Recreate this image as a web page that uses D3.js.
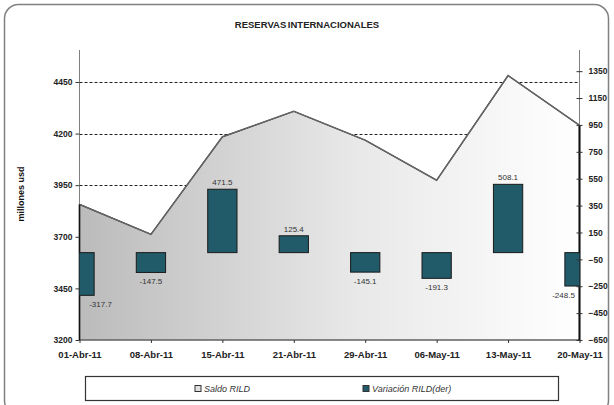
<!DOCTYPE html>
<html><head><meta charset="utf-8">
<script src="https://cdn.jsdelivr.net/npm/d3@7"></script>
<style>
html,body{margin:0;padding:0;background:#fff;}
svg{display:block;font-family:"Liberation Sans",Arial,sans-serif;}
</style></head>
<body><svg id="c" width="614" height="405"></svg>
<script>
const categories = ["01-Abr-11","08-Abr-11","15-Abr-11","21-Abr-11","29-Abr-11","06-May-11","13-May-11","20-May-11"];
const saldo = [3857, 3712, 4184, 4308, 4168, 3974, 4481, 4240];
const variacion = [-317.7, -147.5, 471.5, 125.4, -145.1, -191.3, 508.1, -248.5];
const leftTicks = [3200, 3450, 3700, 3950, 4200, 4450];
const rightTicks = [-650, -450, -250, -50, 150, 350, 550, 750, 950, 1150, 1350];
const gridTicks = [3700, 3950, 4200, 4450];
const title = "RESERVAS INTERNACIONALES";
const yTitle = "millones usd";
const legendLabels = ["Saldo RILD", "Variación RILD(der)"];

const svg = d3.select("#c");
const L = 79.5, R = 579.5, T = 50, B = 340;

const x = d3.scalePoint().domain(categories).range([L, R]);
const yL = d3.scaleLinear().domain([3200, 4600]).range([B, T + 1]);
const yR = d3.scaleLinear().domain([-650, 1500]).range([B, T + 1]);
const step = x.step();
const bw = step * 0.41;

// outer border
svg.append("rect").attr("x", 4.5).attr("y", 4.5).attr("width", 604).attr("height", 410)
  .attr("rx", 14).attr("fill", "#fff").attr("stroke", "#808080").attr("stroke-width", 1.5);

// title
svg.append("text").attr("x", 307).attr("y", 28).attr("text-anchor", "middle")
  .attr("font-size", 9.5).attr("font-weight", "bold").attr("fill", "#222")
  .attr("word-spacing", -1).text(title);

const defs = svg.append("defs");
const grad = defs.append("linearGradient").attr("id", "g").attr("gradientUnits", "userSpaceOnUse")
  .attr("x1", L).attr("x2", R).attr("y1", 0).attr("y2", 0);
grad.append("stop").attr("offset", 0).attr("stop-color", "#bbbbbb");
grad.append("stop").attr("offset", 0.55).attr("stop-color", "#e8e8e8");
grad.append("stop").attr("offset", 1).attr("stop-color", "#ffffff");
defs.append("clipPath").attr("id", "clip").append("rect")
  .attr("x", L).attr("y", T).attr("width", R - L).attr("height", B - T);

// gridlines
svg.append("g").selectAll("line").data(gridTicks).join("line")
  .attr("x1", L).attr("x2", R).attr("y1", d => Math.round(yL(d)) + 0.5).attr("y2", d => Math.round(yL(d)) + 0.5)
  .attr("stroke", "#222").attr("stroke-width", 1).attr("stroke-dasharray", "3,2");

// area
const area = d3.area().x((d, i) => x(categories[i])).y0(B).y1(d => yL(d));
svg.append("path").datum(saldo).attr("d", area).attr("fill", "url(#g)")
  .attr("stroke", "#222").attr("stroke-width", 1.2);
const line = d3.line().x((d, i) => x(categories[i])).y(d => yL(d));
svg.append("path").datum(saldo).attr("d", line).attr("fill", "none")
  .attr("stroke", "#666").attr("stroke-width", 1.4);

// axes lines
svg.append("line").attr("x1", L).attr("x2", L).attr("y1", T).attr("y2", B).attr("stroke", "#808080").attr("stroke-width", 1);
svg.append("line").attr("x1", R).attr("x2", R).attr("y1", T).attr("y2", B).attr("stroke", "#808080").attr("stroke-width", 1);
svg.append("line").attr("x1", L).attr("x2", R).attr("y1", B).attr("y2", B).attr("stroke", "#808080").attr("stroke-width", 1);
// area side edges darker
svg.append("line").attr("x1", L).attr("x2", L).attr("y1", yL(saldo[0])).attr("y2", B).attr("stroke", "#111").attr("stroke-width", 1.5);
svg.append("line").attr("x1", R).attr("x2", R).attr("y1", yL(saldo[saldo.length-1])).attr("y2", B).attr("stroke", "#111").attr("stroke-width", 2);

// bars
const bars = svg.append("g").attr("clip-path", "url(#clip)");
bars.selectAll("rect").data(variacion).join("rect")
  .attr("x", (d, i) => x(categories[i]) - bw / 2)
  .attr("width", bw)
  .attr("y", d => yR(Math.max(0, d)))
  .attr("height", d => Math.abs(yR(d) - yR(0)))
  .attr("fill", "#215a69").attr("stroke", "#1a1a1a").attr("stroke-width", 1);

// bar labels
svg.append("g").selectAll("text").data(variacion).join("text")
  .attr("x", (d, i) => Math.min(Math.max(x(categories[i]), L + 21), R - 16))
  .attr("y", d => d >= 0 ? yR(d) - 4 : yR(d) + 12)
  .attr("text-anchor", "middle").attr("font-size", 8).attr("fill", "#333")
  .text(d => d.toFixed(1));

// left axis
const gl = svg.append("g").attr("transform", `translate(${L},0)`)
  .call(d3.axisLeft(yL).tickValues(leftTicks).tickSize(4).tickPadding(3).tickFormat(d3.format("d")));
gl.select(".domain").remove();
gl.selectAll("line").attr("stroke", "#333");
gl.selectAll("text").attr("font-size", 8.5).attr("font-weight", "bold").attr("fill", "#222")
  .attr("font-family", "Liberation Sans, Arial, sans-serif");

// right axis
const gr = svg.append("g").attr("transform", `translate(${R},0)`)
  .call(d3.axisRight(yR).tickValues(rightTicks).tickSizeInner(3).tickSizeOuter(0).tickPadding(6).tickFormat(d3.format("d")));
gr.select(".domain").remove();
gr.selectAll(".tick line").attr("x1", -3).attr("stroke", "#333");
gr.selectAll("text").attr("font-size", 8.5).attr("font-weight", "bold").attr("fill", "#222")
  .attr("font-family", "Liberation Sans, Arial, sans-serif");

// x axis
const gx = svg.append("g").attr("transform", `translate(0,${B})`)
  .call(d3.axisBottom(x).tickSize(3).tickPadding(8));
gx.select(".domain").remove();
gx.selectAll("line").attr("stroke", "#333");
gx.selectAll("text").attr("font-size", 9.5).attr("font-weight", "bold").attr("fill", "#222")
  .attr("font-family", "Liberation Sans, Arial, sans-serif");

// y title
svg.append("text").attr("transform", "translate(24,194) rotate(-90)").attr("text-anchor", "middle")
  .attr("font-size", 9).attr("font-weight", "bold").attr("fill", "#111").text(yTitle);

// legend
svg.append("rect").attr("x", 85.5).attr("y", 376.5).attr("width", 473).attr("height", 24)
  .attr("fill", "#fff").attr("stroke", "#333").attr("stroke-width", 1.2);
const lg = svg.append("g");
const legendX = [195, 363];
const legendFill = ["#e0e0e0", "#215a69"];
legendLabels.forEach((t, i) => {
  lg.append("rect").attr("x", legendX[i]).attr("y", 385.5).attr("width", 6).attr("height", 6)
    .attr("fill", legendFill[i]).attr("stroke", "#333").attr("stroke-width", 1);
  lg.append("text").attr("x", legendX[i] + 9).attr("y", 392).attr("font-size", 9)
    .attr("font-style", "italic").attr("fill", "#333").text(t);
});
</script></body></html>
